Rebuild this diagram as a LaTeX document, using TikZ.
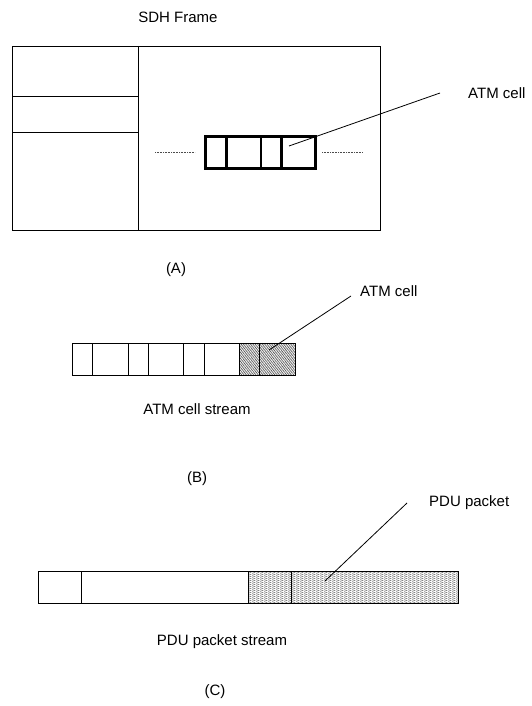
\documentclass[tikz,border=0pt]{standalone}
\usepackage{fontspec}
\setmainfont{Liberation Sans}
\usetikzlibrary{patterns.meta}
\tikzdeclarepattern{
  name=wavy,
  type=uncolored,
  bounding box={(0pt,0pt) and (4pt,2.2pt)},
  tile size={(4pt,2.2pt)},
  code={
    \draw[line width=0.45pt] (0pt,1.1pt) sin (1pt,1.9pt) cos (2pt,1.1pt) sin (3pt,0.3pt) cos (4pt,1.1pt);
  }
}
\begin{document}
\begin{tikzpicture}[x=1pt,y=-1pt,
  lbl/.style={font=\fontsize{15}{18}\selectfont, inner sep=0pt},
  thinln/.style={line width=0.8pt, black},
  boldln/.style={line width=3pt, black},
  dotln/.style={line width=0.6pt, dash pattern=on 0.8pt off 0.8pt, black!70},
  leader/.style={line width=0.8pt, black},
  hatchB/.style={pattern={Lines[angle=60,distance=1.5pt,line width=0.5pt]}, pattern color=black!75},
  hatchC/.style={pattern=wavy, pattern color=black!75}]
\useasboundingbox (0,0) rectangle (532,706);

% ---------- (A) ----------
\node[lbl] (sdh) at (178,17) {SDH Frame};
\draw[thinln] (12,46) rectangle (380,230);
\draw[thinln] (138,46) -- (138,230);
\draw[thinln] (12,96) -- (138,96);
\draw[thinln] (12,132) -- (138,132);

\draw[dotln] (155,152) -- (195,152);
\draw[dotln] (322,152) -- (363,152);
\draw[boldln] (205,136) rectangle (315,168);
\draw[boldln] (226,136) -- (226,168);
\draw[line width=1.6pt] (261,136) -- (261,168);
\draw[boldln] (281,136) -- (281,168);

\coordinate (a1) at (289,146);
\coordinate (a2) at (440,93);
\node[lbl, anchor=west] (atmA) at (468,93) {ATM cell};
\draw[leader] (a1) -- (a2);
\node[lbl] (labA) at (176,270) {(A)};

% ---------- (B) ----------
\fill[hatchB] (239,343) rectangle (295,375);
\draw[thinln] (72,343) rectangle (295,375);
\foreach \x in {92,128,148,183,204,239,259} \draw[thinln] (\x,343) -- (\x,375);
\coordinate (b1) at (269,350);
\coordinate (b2) at (351,296);
\node[lbl, anchor=west] (atmB) at (360,291) {ATM cell};
\draw[leader] (b1) -- (b2);
\node[lbl] (streamB) at (197,409) {ATM cell stream};
\node[lbl] (labB) at (197,479) {(B)};

% ---------- (C) ----------
\fill[hatchC] (248,571) rectangle (458,603);
\draw[thinln] (38,571) rectangle (458,603);
\foreach \x in {81,248,291} \draw[thinln] (\x,571) -- (\x,603);
\coordinate (c1) at (325,581);
\coordinate (c2) at (407,503);
\node[lbl, anchor=west] (pduC) at (429,503) {PDU packet};
\draw[leader] (c1) -- (c2);
\node[lbl] (streamC) at (222,642) {PDU packet stream};
\node[lbl] (labC) at (215,692) {(C)};
\end{tikzpicture}
\end{document}
